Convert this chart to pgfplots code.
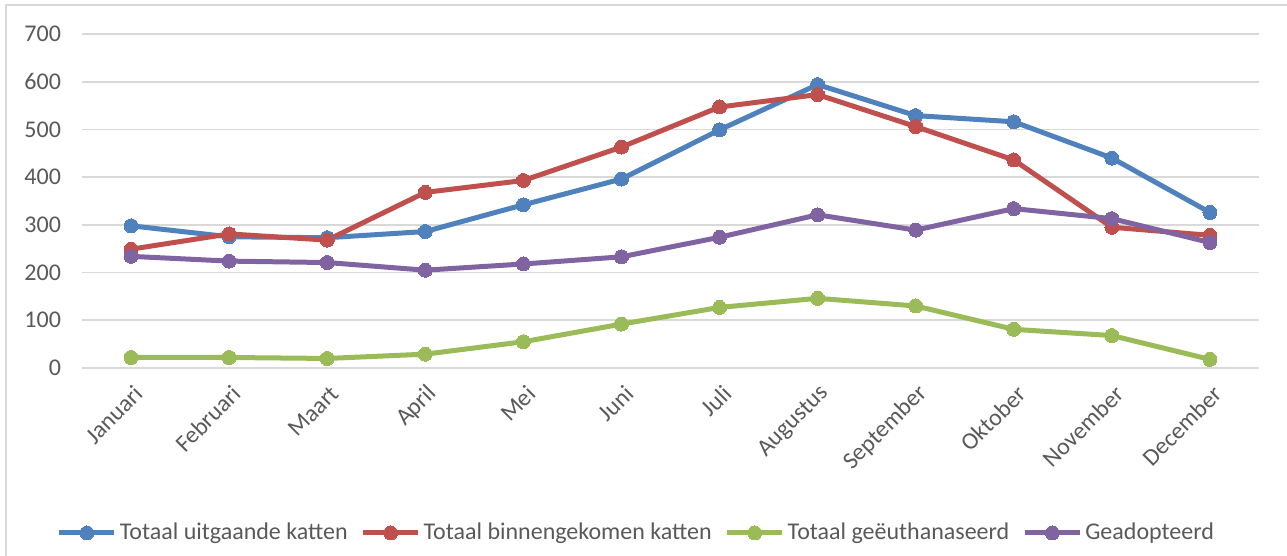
\documentclass[border=0pt]{standalone}
\usepackage{pgfplots}
\pgfplotsset{compat=1.18}
\usepackage{fontspec}
\setmainfont{Carlito}
\definecolor{cblue}{HTML}{4F81BD}
\definecolor{cred}{HTML}{C0504D}
\definecolor{cgreen}{HTML}{9BBB59}
\definecolor{cpurple}{HTML}{8064A2}
\definecolor{txt}{HTML}{595959}
\definecolor{gridc}{HTML}{D9D9D9}
\begin{document}
\begin{tikzpicture}
\useasboundingbox (0,0) rectangle (643.5pt,278pt);
\draw[gridc, line width=0.9pt] (3pt,0pt) -- (3pt,275.5pt) -- (643.5pt,275.5pt);
\begin{axis}[
  at={(41pt,94pt)}, anchor=south west,
  scale only axis, width=588.5pt, height=167pt,
  xmin=-0.5, xmax=11.5, ymin=0, ymax=700,
  ytick={0,100,...,700},
  xtick={0,...,11},
  xticklabels={Januari,Februari,Maart,April,Mei,Juni,Juli,Augustus,September,Oktober,November,December},
  axis line style={draw=none},
  major tick length=0pt,
  xmajorgrids=false, ymajorgrids=true,
  grid style={color=gridc, line width=0.9pt},
  tick label style={font=\fontsize{12}{14}\selectfont, text=txt},
  /pgf/number format/assume math mode=true,
  xticklabel style={rotate=45, anchor=east, yshift=-10.5pt, xshift=-1.5pt},
  yticklabel style={xshift=-7pt},
  legend columns=4,
  legend style={at={(0.4715,-0.494)}, anchor=center, draw=none, fill=none,
    font=\fontsize{12}{14}\selectfont, text=txt,
    /tikz/every even column/.append style={column sep=5pt},
    nodes={inner sep=1.5pt}},
  legend image code/.code={
    \draw[#1, mark=none] (0pt,0pt) -- (27.5pt,0pt);
    \draw[#1] plot coordinates {(13.75pt,0pt)};
  },
  every axis plot/.append style={line width=2.5pt, mark=*, mark size=3.5pt},
]
\addplot[cblue, mark options={fill=cblue, draw=cblue, line width=0pt}] coordinates {
(0,298) (1,275) (2,273) (3,286) (4,342) (5,396) (6,499) (7,594) (8,529) (9,516) (10,440) (11,326)};
\addlegendentry{Totaal uitgaande katten}
\addplot[cred, mark options={fill=cred, draw=cred, line width=0pt}] coordinates {
(0,249) (1,281) (2,268) (3,368) (4,393) (5,463) (6,547) (7,573) (8,506) (9,436) (10,295) (11,278)};
\addlegendentry{Totaal binnengekomen katten}
\addplot[cgreen, mark options={fill=cgreen, draw=cgreen, line width=0pt}] coordinates {
(0,22) (1,22) (2,20) (3,29) (4,55) (5,92) (6,127) (7,146) (8,130) (9,81) (10,68) (11,18)};
\addlegendentry{Totaal geëuthanaseerd}
\addplot[cpurple, mark options={fill=cpurple, draw=cpurple, line width=0pt}] coordinates {
(0,234) (1,224) (2,221) (3,205) (4,218) (5,233) (6,274) (7,321) (8,289) (9,334) (10,313) (11,263)};
\addlegendentry{Geadopteerd}
\end{axis}
\end{tikzpicture}
\end{document}
